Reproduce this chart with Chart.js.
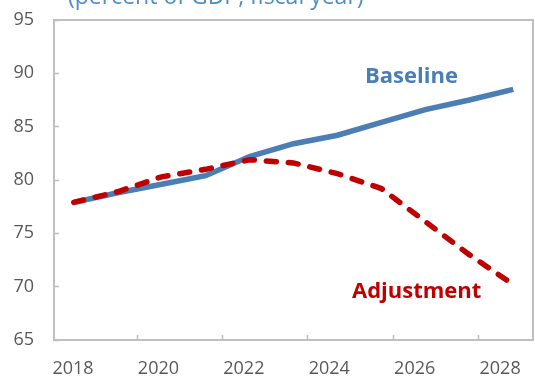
<!DOCTYPE html>
<html>
<head>
<meta charset="utf-8">
<script src="https://cdn.jsdelivr.net/npm/chart.js@4"></script>
<style>
  html, body { margin: 0; padding: 0; background: #fff; overflow: hidden; }
  #wrap { width: 535px; height: 377px; position: relative; }
</style>
</head>
<body>
<div id="wrap"><canvas id="debtChart"></canvas></div>
<script>
  // values (percent of GDP)
  const years = [2018, 2019, 2020, 2021, 2022, 2023, 2024, 2025, 2026, 2027, 2028];
  const baseline = [77.9, 78.8, 79.6, 80.4, 82.2, 83.4, 84.2, 85.4, 86.6, 87.5, 88.5];
  const adjustment = [77.9, 78.9, 80.3, 81.0, 81.9, 81.6, 80.6, 79.2, 76.1, 73.0, 70.2];
  const yTicks = [65, 70, 75, 80, 85, 90, 95];
  const xLabelYears = [2018, 2020, 2022, 2024, 2026, 2028];
  const xTickMarks = [2019.5, 2021.5, 2023.5, 2025.5, 2027.5];

  const axisGray = '#bfbfbf';
  const labelGray = '#595959';
  const tickFont = { family: 'Open Sans', size: 18 };

  const toPoints = vals => vals.map((v, i) => ({ x: years[i], y: v }));

  // fixed box sizes so the plot area sits where the reference has it
  const fixBox = (w, h) => s => {
    if (w !== null) s.width = w;
    if (h !== null) s.height = h;
    s.paddingTop = 0; s.paddingBottom = 0;
    s.paddingLeft = 0; s.paddingRight = 0;
  };

  const textLabels = {
    id: 'textLabels',
    afterDraw(chart) {
      const ctx = chart.ctx;
      ctx.save();
      ctx.textBaseline = 'alphabetic';
      ctx.textAlign = 'left';
      ctx.font = '23px "Open Sans"';
      ctx.fillStyle = '#4e8dcb';
      ctx.fillText('(percent of GDP, fiscal year)', 68, 4);
      ctx.font = 'bold 22px "Open Sans"';
      ctx.fillStyle = '#4a7eb5';
      ctx.fillText('Baseline', 365, 83);
      ctx.fillStyle = '#c00000';
      ctx.fillText('Adjustment', 352, 298);
      ctx.restore();
    }
  };

  new Chart(document.getElementById('debtChart'), {
    type: 'line',
    data: {
      datasets: [
        {
          label: 'Adjustment',
          data: toPoints(adjustment),
          borderColor: '#c00000',
          borderWidth: 5.5,
          borderDash: [10, 12],
          borderCapStyle: 'round',
          pointRadius: 0,
          tension: 0,
          xAxisID: 'x',
          yAxisID: 'y'
        },
        {
          label: 'Baseline',
          data: toPoints(baseline),
          borderColor: '#4a7eb5',
          borderWidth: 5.5,
          borderCapStyle: 'butt',
          pointRadius: 0,
          tension: 0,
          xAxisID: 'x',
          yAxisID: 'y'
        }
      ]
    },
    options: {
      responsive: true,
      maintainAspectRatio: false,
      animation: false,
      layout: { padding: 0 },
      plugins: {
        legend: { display: false },
        tooltip: { enabled: false }
      },
      scales: {
        x: { type: 'linear', min: 2017.55, max: 2028.45, display: false },
        xt: {
          type: 'linear',
          position: 'bottom',
          min: 2017.555,
          max: 2028.77,
          afterBuildTicks: s => {
            s.ticks = [...xLabelYears, ...xTickMarks].sort((a, b) => a - b).map(v => ({ value: v }));
          },
          afterFit: fixBox(null, 37),
          ticks: {
            autoSkip: false,
            maxRotation: 0,
            padding: 23,
            font: tickFont,
            color: labelGray,
            callback: v => xLabelYears.includes(v) ? String(v) : ''
          },
          grid: {
            drawOnChartArea: false,
            tickLength: -5,
            tickWidth: 1.5,
            tickColor: c => (c.tick && xTickMarks.includes(c.tick.value)) ? axisGray : 'rgba(0,0,0,0)'
          },
          border: { color: axisGray, width: 2 }
        },
        xtop: {
          type: 'linear',
          position: 'top',
          min: 0,
          max: 1,
          afterFit: fixBox(null, 20),
          ticks: { display: false },
          grid: { drawOnChartArea: false, drawTicks: false },
          border: { color: axisGray, width: 2 }
        },
        y: {
          min: 65,
          max: 95,
          afterBuildTicks: s => { s.ticks = yTicks.map(v => ({ value: v })); },
          afterFit: fixBox(54, null),
          ticks: { padding: 25, font: tickFont, color: labelGray },
          grid: { drawOnChartArea: false, tickLength: -5, tickWidth: 1.5, tickColor: axisGray },
          border: { color: axisGray, width: 2 }
        },
        yr: {
          position: 'right',
          min: 65,
          max: 95,
          afterFit: fixBox(2, null),
          ticks: { display: false },
          grid: { drawOnChartArea: false, drawTicks: false },
          border: { color: axisGray, width: 2 }
        }
      }
    },
    plugins: [textLabels]
  });
</script>
</body>
</html>
